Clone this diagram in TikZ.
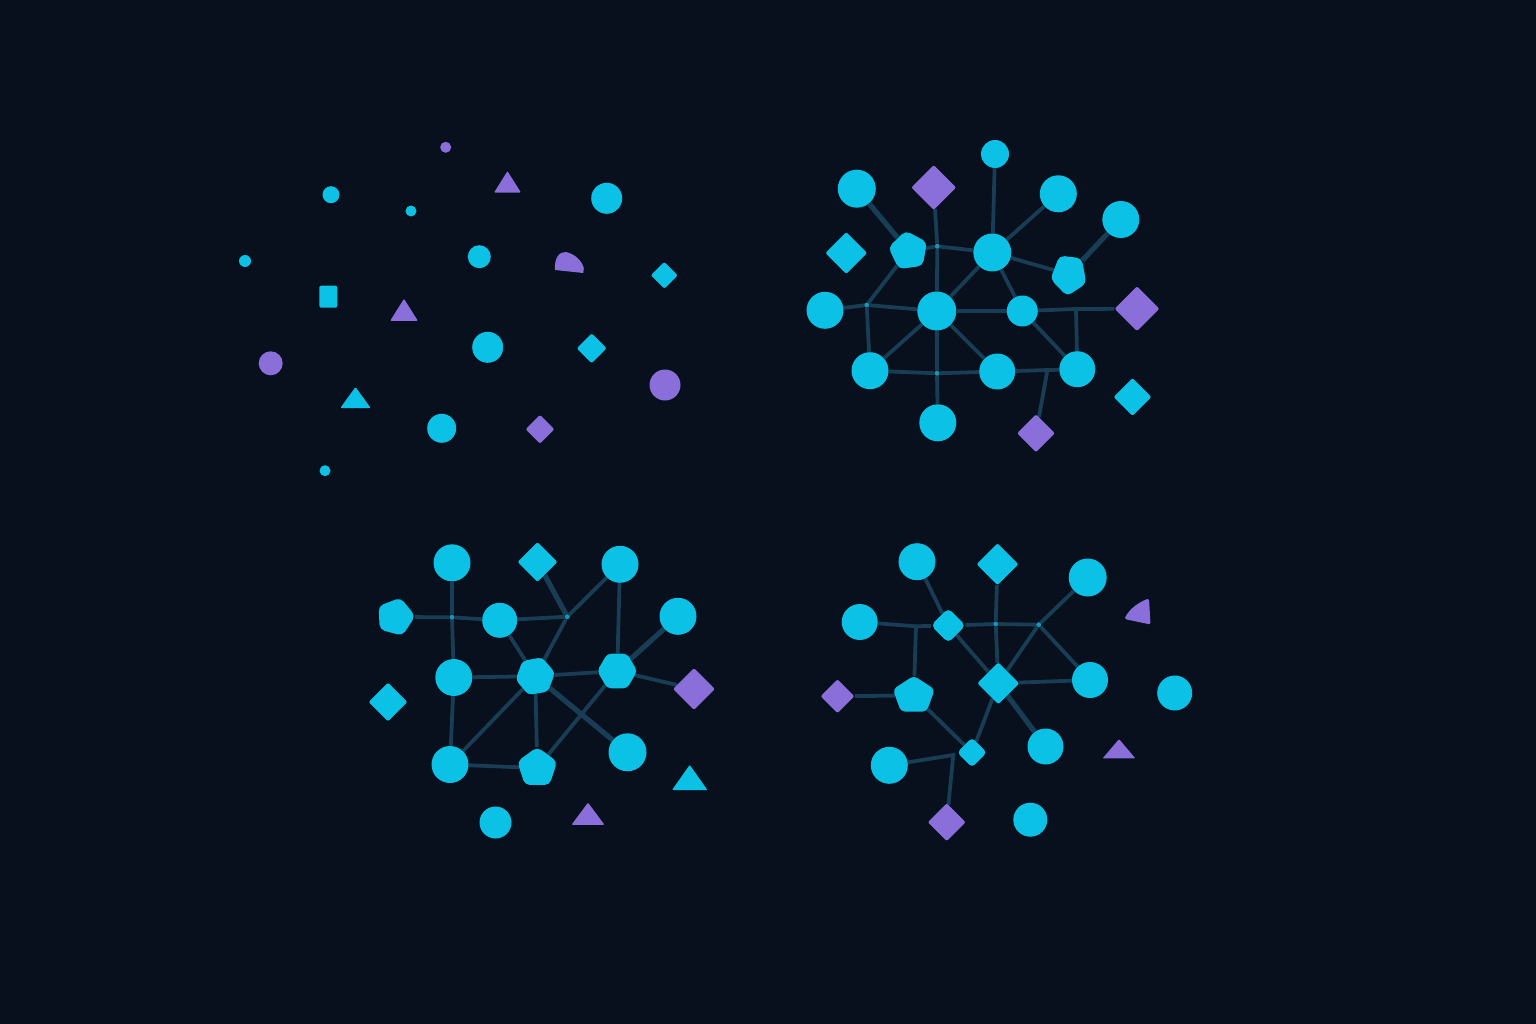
\documentclass[tikz,border=0pt]{standalone}
\usetikzlibrary{shapes.geometric}
\definecolor{bgc}{HTML}{07101C}
\definecolor{cy}{HTML}{0BC2E6}
\definecolor{pu}{HTML}{8A6FDB}
\definecolor{ed}{HTML}{183D54}
\definecolor{jd}{HTML}{1597B8}
\pgfdeclarelayer{back}
\pgfdeclarelayer{edges}
\pgfsetlayers{back,edges,main}
\begin{document}
\begin{tikzpicture}[x=1pt,y=-1pt,
  cc/.style={circle,fill=cy,inner sep=0pt,minimum size=#1},
  pc/.style={circle,fill=pu,inner sep=0pt,minimum size=#1},
  cdia/.style={diamond,fill=cy,inner sep=0pt,minimum size=#1,rounded corners=2pt},
  pdia/.style={diamond,fill=pu,inner sep=0pt,minimum size=#1,rounded corners=2pt},
  ctri/.style={regular polygon,regular polygon sides=3,fill=cy,inner sep=0pt,minimum size=#1,rounded corners=1pt},
  ptri/.style={regular polygon,regular polygon sides=3,fill=pu,inner sep=0pt,minimum size=#1,rounded corners=1pt},
  cpent/.style={regular polygon,regular polygon sides=5,fill=cy,inner sep=0pt,minimum size=#1,rounded corners=5pt},
  chex/.style={regular polygon,regular polygon sides=6,fill=cy,inner sep=0pt,minimum size=#1,rounded corners=4pt},
  jdot/.style={circle,fill=jd,inner sep=0pt,minimum size=5pt},
  link/.style={draw=ed,line width=3.8pt},
  wlink/.style={draw=ed,line width=5.2pt}]
\begin{pgfonlayer}{back}
\fill[bgc] (0,0) rectangle (1536,1024);
\end{pgfonlayer}
\useasboundingbox (0,0) rectangle (1536,1024);

% ---------- Quadrant 1 : scattered ----------
\node[pc=11pt] (s1) at (445.7,147.3) {};
\node[ptri=31pt,yscale=0.92] (s2) at (507.5,185.4) {};
\node[cc=17pt] (s3) at (331,194.7) {};
\node[cc=11pt] (s4) at (411,211) {};
\node[cc=31pt] (s5) at (606.7,198.3) {};
\node[cc=12pt] (s6) at (245,261) {};
\node[cc=23pt] (s7) at (479.3,256.7) {};
\fill[pu] (555,270) .. controls (554,257) and (560,251.5) .. (566,252) .. controls (575,254) and (582,261) .. (583.8,268) -- (583.3,273) -- cycle;
\node[cdia=27pt] (s9) at (664.3,275.3) {};
\node[rectangle,fill=cy,inner sep=0pt,minimum width=18pt,minimum height=22pt,rounded corners=2pt] (s10) at (328.3,296.7) {};
\node[ptri=32pt,yscale=0.92] (s11) at (404,313.5) {};
\node[pc=24pt] (s12) at (270.7,363.3) {};
\node[cc=31pt] (s13) at (487.7,347.3) {};
\node[cdia=30pt] (s14) at (591.7,348.3) {};
\node[pc=31pt] (s15) at (665,385) {};
\node[ctri=35pt,yscale=0.8] (s16) at (355.5,401) {};
\node[cc=29pt] (s17) at (441.7,428.3) {};
\node[pdia=29pt] (s18) at (540,429.3) {};
\node[cc=11pt] (s19) at (325,470.7) {};

% ---------- Quadrant 2 : top right ----------
\node[cc=28pt] (A) at (995,154) {};
\node[cc=38pt] (B) at (856.8,188.7) {};
\node[pdia=45pt] (C) at (933.7,187.5) {};
\node[cc=37pt] (D) at (1058.3,193.8) {};
\node[cc=37pt] (E) at (1120.8,219.5) {};
\node[cdia=42pt] (F) at (846.3,253) {};
\node[cpent=41pt,rotate=8] (G) at (908.5,251) {};
\node[cc=38pt] (H) at (992.3,252.5) {};
\node[cpent=38pt,shape border rotate=180,yscale=1.15,rotate=-6] (I) at (1069,274.5) {};
\node[cc=37pt] (J) at (825,310.3) {};
\node[cc=39pt] (K) at (936.8,311) {};
\node[cc=31pt] (L) at (1022.3,311) {};
\node[pdia=45pt] (M) at (1137,308.7) {};
\node[cc=37pt] (N) at (870,370.7) {};
\node[cc=36pt] (O) at (997.2,371.5) {};
\node[cc=36pt] (P) at (1077.3,369.2) {};
\node[cdia=38pt] (Q) at (1132.5,397) {};
\node[cc=37pt] (R) at (937.8,422.8) {};
\node[pdia=38pt] (S) at (1036,433.3) {};
\node[jdot] (j1) at (937.3,246.3) {};
\node[jdot] (j2) at (866.7,305) {};
\node[jdot] (j3) at (937,373.3) {};
\coordinate (j4) at (1076,309);
\coordinate (j5) at (1047.3,371);

% ---------- Quadrant 3 : bottom left ----------
\node[cc=37pt] (a) at (452,562.8) {};
\node[cdia=40pt] (b) at (537.5,562) {};
\node[cc=37pt] (c) at (620,564.3) {};
\node[cpent=40pt,rotate=-15] (d) at (395.3,617) {};
\node[cc=35pt] (e) at (499.7,620.3) {};
\node[cc=37pt] (f) at (678,616.3) {};
\node[cc=37pt] (g) at (453.8,677.5) {};
\node[chex=40pt,rotate=10] (h) at (535.3,676.2) {};
\node[chex=40pt] (i) at (617.2,671) {};
\node[pdia=42pt] (jj) at (694,689) {};
\node[cdia=39pt] (k) at (388,702) {};
\node[cc=37pt] (l) at (450,764.5) {};
\node[cpent=42pt] (m) at (537.2,768) {};
\node[cc=38pt] (n) at (627.5,752.3) {};
\node[ctri=41pt,yscale=0.82] (o) at (689.7,781.7) {};
\node[cc=32pt] (p) at (495.5,822.5) {};
\node[ptri=38pt,yscale=0.78] (q) at (588,817.4) {};
\node[jdot] (ja) at (452,617.3) {};
\node[jdot] (jb) at (567.3,616.7) {};

% ---------- Quadrant 4 : bottom right ----------
\node[cc=37pt] (A4) at (917,561.7) {};
\node[cdia=42pt] (B4) at (997.5,564.2) {};
\node[cc=38pt] (C4) at (1087.7,577.5) {};
\fill[pu,rounded corners=1.5pt] (1124.5,619) .. controls (1129,609) and (1139,602) .. (1149,598.5) -- (1150.5,624.5) -- cycle;
\node[cc=36pt] (E4) at (859.7,622) {};
\node[cdia=35pt,rounded corners=5pt] (F4) at (948.3,625.5) {};
\node[cc=36pt] (G4) at (1090,680) {};
\node[cdia=42pt] (H4) at (998.3,683.3) {};
\node[pdia=34pt] (I4) at (837.5,696.2) {};
\node[cpent=44pt,rounded corners=4pt,yscale=0.9] (J4) at (913.8,695.5) {};
\node[cc=35pt] (K4) at (1174.7,693) {};
\node[cdia=30pt,rounded corners=4pt] (L4) at (972,752.5) {};
\node[cc=36pt] (M4) at (1045.5,746.5) {};
\node[ptri=38pt,yscale=0.68] (N4) at (1119,752) {};
\node[cc=37pt] (O4) at (889.3,765.3) {};
\node[pdia=38pt] (P4) at (946.7,822.2) {};
\node[cc=34pt] (Q4) at (1030.3,819.7) {};
\coordinate (jA) at (916,626.3);
\node[jdot] (jB) at (995.7,624) {};
\node[jdot] (jC) at (1038.7,624.7) {};
\coordinate (jD) at (953.3,755);

% ---------- connectors ----------
\begin{pgfonlayer}{edges}
% Q2
\path[wlink] (B) -- (G);
\path[link] (C) -- (j1) -- (K);
\path[link] (G) -- (j1) -- (H);
\path[link] (A) -- (H);
\path[link] (H) -- (D);
\path[link] (H) -- (I);
\path[wlink] (I) -- (E);
\path[link] (H) -- (K);
\path[link] (H) -- (L);
\path[link] (G) -- (j2);
\path[link] (J) -- (j2) -- (K);
\path[link] (j2) -- (N);
\path[link] (K) -- (N);
\path[link] (K) -- (L);
\path[link] (L) -- (j4) -- (M);
\path[link] (j4) -- (P);
\path[link] (K) -- (O);
\path[link] (L) -- (P);
\path[link] (N) -- (j3) -- (O);
\path[link] (K) -- (j3) -- (R);
\path[link] (O) -- (P);
\path[link] (j5) -- (S);
% Q3
\path[link] (a) -- (ja) -- (g);
\path[link] (d) -- (ja) -- (e);
\path[link] (e) -- (jb);
\path[wlink] (b) -- (jb);
\path[link] (jb) -- (c);
\path[link] (jb) -- (h);
\path[link] (e) -- (h);
\path[link] (c) -- (i);
\path[wlink] (i) -- (f);
\path[link] (g) -- (h);
\path[link] (h) -- (i);
\path[link] (i) -- (jj);
\path[link] (g) -- (l);
\path[link] (l) -- (m);
\path[link] (h) -- (l);
\path[link] (h) -- (m);
\path[wlink] (h) -- (n);
\path[link] (m) -- (i);
% Q4
\path[link] (A4) -- (F4);
\path[link] (E4) -- (jA) -- (F4);
\path[link] (jA) -- (J4);
\path[link] (F4) -- (jB) -- (jC);
\path[link] (B4) -- (jB) -- (H4);
\path[link] (F4) -- (H4);
\path[link] (jC) -- (C4);
\path[link] (jC) -- (H4);
\path[link] (jC) -- (G4);
\path[link] (H4) -- (G4);
\path[link] (I4) -- (J4);
\path[link] (J4) -- (L4);
\path[link] (H4) -- (L4);
\path[wlink] (H4) -- (M4);
\path[link] (O4) -- (jD) -- (P4);
\end{pgfonlayer}
\end{tikzpicture}
\end{document}
